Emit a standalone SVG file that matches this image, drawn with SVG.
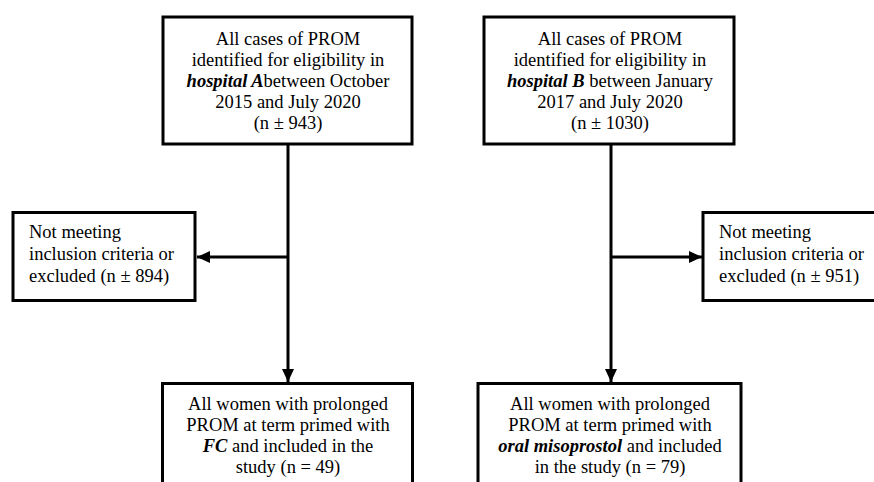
<svg xmlns="http://www.w3.org/2000/svg" width="874" height="482" viewBox="0 0 874 482">
<style>
.box{fill:#fff;stroke:#000;stroke-width:3}
text{font-family:'Liberation Serif','Times New Roman',serif;font-size:18.5px;fill:#000}
.c{text-anchor:middle}
.bi{font-weight:bold;font-style:italic}
.ln{stroke:#000;stroke-width:3;fill:none}
</style>
<defs>
<marker id="ah" markerWidth="13" markerHeight="12" refX="13" refY="6" orient="auto" markerUnits="userSpaceOnUse">
<path d="M0,0 L13,6 L0,12 Z" fill="#000"/>
</marker>
</defs>
<rect width="874" height="482" fill="#fff"/>
<g id="connectors">
<line class="ln" x1="288" y1="145" x2="288" y2="382" marker-end="url(#ah)"/>
<line class="ln" x1="288" y1="257" x2="197" y2="257" marker-end="url(#ah)"/>
<line class="ln" x1="611" y1="145" x2="611" y2="382" marker-end="url(#ah)"/>
<line class="ln" x1="611" y1="257" x2="702" y2="257" marker-end="url(#ah)"/>
</g>
<g id="hospitalA">
<rect class="box" x="163" y="17" width="249" height="127"/>
<text class="c" x="288" y="45">All cases of PROM</text>
<text class="c" x="288" y="66">identified for eligibility in</text>
<text class="c" x="288" y="87"><tspan class="bi">hospital A</tspan>between October</text>
<text class="c" x="288" y="108">2015 and July 2020</text>
<text class="c" x="288" y="129">(n ± 943)</text>
</g>
<g id="hospitalB">
<rect class="box" x="484" y="17" width="250" height="127"/>
<text class="c" x="610" y="45">All cases of PROM</text>
<text class="c" x="610" y="66">identified for eligibility in</text>
<text class="c" x="610" y="87"><tspan class="bi">hospital B</tspan> between January</text>
<text class="c" x="610" y="108">2017 and July 2020</text>
<text class="c" x="610" y="129">(n ± 1030)</text>
</g>
<g id="excludedA">
<rect class="box" x="13" y="212.5" width="182" height="88"/>
<text x="29" y="238">Not meeting</text>
<text x="29" y="260">inclusion criteria or</text>
<text x="29" y="282">excluded (n ± 894)</text>
</g>
<g id="excludedB">
<rect class="box" x="703" y="212.5" width="180" height="88"/>
<text x="719" y="238">Not meeting</text>
<text x="719" y="260">inclusion criteria or</text>
<text x="719" y="282">excluded (n ± 951)</text>
</g>
<g id="studyA">
<rect class="box" x="162.5" y="383.5" width="250" height="120"/>
<text class="c" x="288" y="410">All women with prolonged</text>
<text class="c" x="288" y="431">PROM at term primed with</text>
<text class="c" x="288" y="452"><tspan class="bi">FC</tspan> and included in the</text>
<text class="c" x="288" y="473">study (n = 49)</text>
</g>
<g id="studyB">
<rect class="box" x="478" y="383.5" width="263" height="120"/>
<text class="c" x="610" y="410">All women with prolonged</text>
<text class="c" x="610" y="431">PROM at term primed with</text>
<text class="c" x="610" y="452"><tspan class="bi">oral misoprostol</tspan> and included</text>
<text class="c" x="610" y="473">in the study (n = 79)</text>
</g>
</svg>
